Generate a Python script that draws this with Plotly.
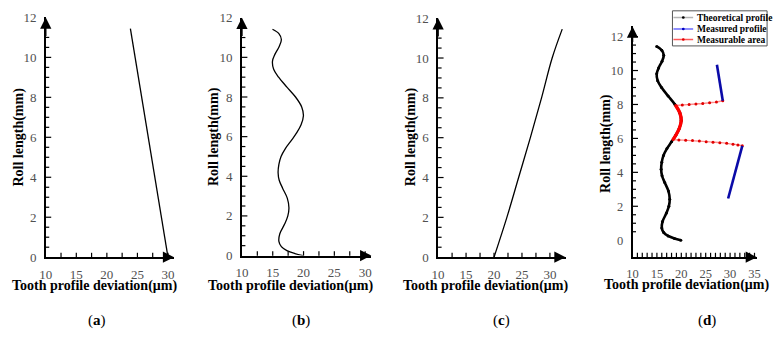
import plotly.graph_objects as go

# ---------------- data ----------------
a_len = [0.0, 6.0, 11.44]
a_dev = [30.0, 26.8, 23.85]

b_len = [0.0, 0.1, 0.25, 0.45, 0.72, 1.1, 1.6, 2.0, 2.41, 2.9, 3.4, 3.8, 4.18, 4.6, 5.0, 5.4,
         5.8, 6.2, 6.6, 7.05, 7.5, 8.0, 8.5, 9.0, 9.4, 9.81, 10.15, 10.55, 10.9, 11.2, 11.42]
b_dev = [19.9, 18.6, 17.3, 16.4, 16.0, 16.15, 16.95, 17.45, 17.63, 17.36, 16.6, 16.05, 15.87, 16.0,
         16.35, 17.05, 18.0, 18.9, 19.6, 19.98, 19.7, 18.7, 17.3, 15.95, 15.15, 14.96, 15.35, 16.05,
         16.4, 16.0, 14.96]

c_len = [0.0, 2.0, 4.0, 6.0, 8.0, 10.0, 11.45]
c_dev = [20.0, 22.3, 24.4, 26.5, 28.5, 30.4, 32.2]

# (d) theoretical profile = same as (b)
d_theo_len = b_len
d_theo_dev = b_dev
# measurable area on the theoretical profile
d_arc_len = [5.93, 6.2, 6.6, 7.05, 7.5, 7.94]
d_arc_dev = [18.3, 18.9, 19.6, 19.98, 19.7, 18.85]
# connectors of the measurable area
d_up_dev = [18.85, 20.2, 21.6, 23.0, 24.4, 25.8, 27.2, 28.5]
d_up_len = [7.94, 7.97, 8.0, 8.03, 8.06, 8.1, 8.14, 8.22]
d_lo_dev = [18.3, 19.5, 20.9, 22.3, 23.7, 25.1, 26.5, 27.9, 29.3, 30.6, 31.6, 32.5]
d_lo_len = [5.93, 5.91, 5.89, 5.87, 5.84, 5.81, 5.78, 5.75, 5.71, 5.66, 5.61, 5.56]
# measured profile
d_m1_dev = [27.3, 28.5]
d_m1_len = [10.34, 8.22]
d_m2_dev = [32.5, 29.6]
d_m2_len = [5.56, 2.46]

panel_labels = ["a", "b", "c", "d"]
x_title = "Tooth profile deviation(μm)"
y_title = "Roll length(mm)"
legend_names = ["Theoretical profile", "Measured profile", "Measurable area"]

# ---------------- layout helpers ----------------
W, H = 777, 341
SERIF = "Liberation Serif"


def xd(p0, p1):
    return [p0 / W, p1 / W]


def yd(top, bottom):
    return [1 - bottom / H, 1 - top / H]


fig = go.Figure()

# (a)
fig.add_trace(go.Scatter(x=a_dev, y=a_len, mode="lines", line=dict(color="black", width=1.3),
                         xaxis="x", yaxis="y", showlegend=False))
# (b)
fig.add_trace(go.Scatter(x=b_dev, y=b_len, mode="lines", line=dict(color="black", width=1.3, shape="spline"),
                         xaxis="x2", yaxis="y2", showlegend=False))
# (c)
fig.add_trace(go.Scatter(x=c_dev, y=c_len, mode="lines", line=dict(color="black", width=1.3, shape="spline"),
                         xaxis="x3", yaxis="y3", showlegend=False))
# (d)
fig.add_trace(go.Scatter(x=d_theo_dev, y=d_theo_len, mode="lines+markers",
                         line=dict(color="black", width=2.6, shape="spline"),
                         marker=dict(color="black", size=3),
                         xaxis="x4", yaxis="y4", showlegend=False))
for xs, ys in [(d_up_dev, d_up_len), (d_lo_dev, d_lo_len)]:
    fig.add_trace(go.Scatter(x=xs, y=ys, mode="lines+markers",
                             line=dict(color="#ff8c8c", width=1.4, shape="spline"),
                             marker=dict(color="#e00000", size=3),
                             xaxis="x4", yaxis="y4", showlegend=False))
fig.add_trace(go.Scatter(x=d_arc_dev, y=d_arc_len, mode="lines",
                         line=dict(color="#ff0000", width=3.4, shape="spline"),
                         xaxis="x4", yaxis="y4", showlegend=False))
for xs, ys in [(d_m1_dev, d_m1_len), (d_m2_dev, d_m2_len)]:
    fig.add_trace(go.Scatter(x=xs, y=ys, mode="lines",
                             line=dict(color="#0a0aa8", width=2.6),
                             xaxis="x4", yaxis="y4", showlegend=False))

panels = [
    ("xaxis", "yaxis", "x", "y", (39.3, 169.5), (10.9, 261.7), [10, 31], [0, 12], 2.5, 13),
    ("xaxis2", "yaxis2", "x2", "y2", (238.3, 369.55), (11.2, 260.0), [10, 31], [0, 12], 2.5, 13),
    ("xaxis3", "yaxis3", "x3", "y3", (437.3, 566.6), (11.7, 261.7), [10, 32.8], [0, 12], 2.5, 13),
    ("xaxis4", "yaxis4", "x4", "y4", (634.5, 760.7), (20.3, 261.7), [10, 35.5], [-1, 12.6], 1, 12.5),
]


def frange(start, stop, step):
    out = []
    k = 0
    while start + k * step <= stop + 1e-9:
        out.append(round(start + k * step, 6))
        k += 1
    return out


layout_axes = {}
annotations = []
for xname, yname, xr, yr, xpx, ypx, xrange, yrange, xminor, fsz in panels:
    layout_axes[xname] = dict(showline=True, linecolor="black", linewidth=1.5, ticks="",
                              tickmode="linear", showgrid=False, zeroline=False,
                              tickfont=dict(family=SERIF, size=fsz, color="#505050"),
                              domain=xd(*xpx), range=xrange, anchor=yr, tick0=10, dtick=5, ticklabelstandoff=4)
    layout_axes[yname] = dict(showline=True, linecolor="black", linewidth=1.5, ticks="",
                              tickmode="linear", showgrid=False, zeroline=False,
                              tickfont=dict(family=SERIF, size=fsz, color="#505050"),
                              domain=yd(*ypx), range=yrange, anchor=xr, tick0=0, dtick=2, ticklabelstandoff=5)

    # inside tick marks drawn as line markers on the axes
    ppx = (xpx[1] - xpx[0]) / (xrange[1] - xrange[0])
    ppy = (ypx[1] - ypx[0]) / (yrange[1] - yrange[0])
    xt = [v for v in frange(10, xrange[1] - 0.4, xminor) if v > 10]
    xlen = 4.5
    fig.add_trace(go.Scatter(x=xt, y=[yrange[0] + (xlen / 2) / ppy] * len(xt), mode="markers",
                             marker=dict(symbol="line-ns", size=xlen / 1.4,
                                         line=dict(color="black", width=1.2)),
                             cliponaxis=False, hoverinfo="skip", showlegend=False, xaxis=xr, yaxis=yr))
    ys_all = [v for v in frange(0, yrange[1] - 0.4, 0.5) if v > yrange[0]]
    for major in (True, False):
        ys = [v for v in ys_all if (abs(v / 2 - round(v / 2)) < 1e-6) == major and v > 0]
        ln = 5.5 if major else 3.5
        fig.add_trace(go.Scatter(x=[xrange[0] + (ln / 2) / ppx] * len(ys), y=ys, mode="markers",
                                 marker=dict(symbol="line-ew", size=ln / 1.4,
                                             line=dict(color="black", width=1.2)),
                                 cliponaxis=False, hoverinfo="skip", showlegend=False, xaxis=xr, yaxis=yr))

    # axis arrows
    annotations.append(dict(xref=xr, yref=yr, axref=xr, ayref=yr, x=xrange[1], y=yrange[0],
                            ax=xrange[1] - 1.5, ay=yrange[0], showarrow=True, arrowhead=2,
                            arrowsize=1.5, arrowwidth=1.5, arrowcolor="black", text=""))
    annotations.append(dict(xref=xr, yref=yr, axref=xr, ayref=yr, x=xrange[0], y=yrange[1],
                            ax=xrange[0], ay=yrange[1] - 1.0, showarrow=True, arrowhead=2,
                            arrowsize=1.5, arrowwidth=1.5, arrowcolor="black", text=""))

# axis titles and panel labels (pixel positions)
xtitle_pos = [(88.7, 291.7), (287.5, 291.7), (485.7, 291.7), (689.0, 291.0)]
ytitle_pos = [(11.7, 136.0), (210.0, 136.0), (410.0, 136.0), (608.3, 142.5)]
label_pos = [91.0, 298.0, 501.7, 710.0]
for (tx, ty), (vx, vy), lx, lab in zip(xtitle_pos, ytitle_pos, label_pos, panel_labels):
    annotations.append(dict(xref="paper", yref="paper", x=tx / W, y=1 - ty / H, text="<b>" + x_title + "</b>",
                            showarrow=False, xanchor="center", yanchor="middle",
                            font=dict(family=SERIF, size=14, color="black")))
    annotations.append(dict(xref="paper", yref="paper", x=vx / W, y=1 - vy / H, text="<b>" + y_title + "</b>",
                            showarrow=False, xanchor="center", yanchor="middle", textangle=-90,
                            font=dict(family=SERIF, size=14, color="black")))
    annotations.append(dict(xref="paper", yref="paper", x=lx / W, y=1 - 328 / H, text="(<b>" + lab + "</b>)",
                            showarrow=False, xanchor="center", yanchor="middle",
                            font=dict(family=SERIF, size=15, color="black")))

# manual legend for (d)
shapes = [dict(type="rect", xref="paper", yref="paper", x0=675 / W, x1=771 / W, y0=1 - 40.7 / H, y1=1 - 4 / H,
               line=dict(color="#555", width=1), fillcolor="white")]
leg_line_col = ["#b4b4b4", "#6b6bff", "#ff5a5a"]
leg_dot_col = ["#000000", "#0000c0", "#e00000"]
leg_y = [11.0, 23.0, 34.0]
for name, lc, dc, ly in zip(legend_names, leg_line_col, leg_dot_col, leg_y):
    yy = 1 - ly / H
    shapes.append(dict(type="line", xref="paper", yref="paper", x0=676 / W, x1=696 / W, y0=yy, y1=yy,
                       line=dict(color=lc, width=1.5)))
    shapes.append(dict(type="circle", xref="paper", yref="paper", x0=684.6 / W, x1=687.4 / W,
                       y0=1 - (ly + 1.4) / H, y1=1 - (ly - 1.4) / H, line=dict(width=0), fillcolor=dc))
    annotations.append(dict(xref="paper", yref="paper", x=697.5 / W, y=yy, text="<b>" + name + "</b>",
                            showarrow=False, xanchor="left", yanchor="middle",
                            font=dict(family=SERIF, size=9.5, color="black")))

fig.update_layout(width=W, height=H, margin=dict(l=0, r=0, t=0, b=0), paper_bgcolor="white",
                  plot_bgcolor="white", showlegend=False, annotations=annotations, shapes=shapes)
fig.update_layout(layout_axes)

fig.write_html("out.html")
